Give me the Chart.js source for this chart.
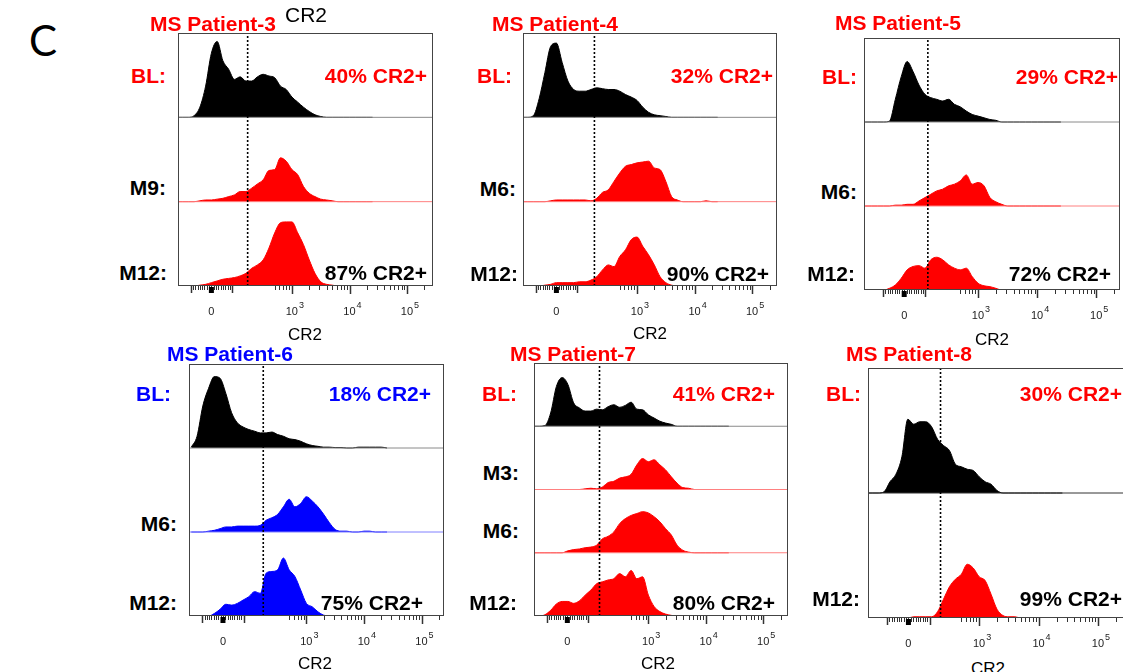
<!DOCTYPE html>
<html>
<head>
<meta charset="utf-8">
<script src="https://cdn.jsdelivr.net/npm/chart.js@4.4.1/dist/chart.umd.min.js"></script>
<style>
body { margin: 0; background: #fff; }
#fig { position: relative; width: 1123px; height: 672px; overflow: hidden; font-family: "Liberation Sans", Arial, sans-serif; }
#fig canvas { position: absolute; }
.t { position: absolute; line-height: 1; white-space: nowrap; }
</style>
</head>
<body>
<div id="fig"></div>
<script>
// CR2 channel bins (display units, 3 = 10^3)
const bins = [1.0,1.1,1.2,1.3,1.4,1.5,1.6,1.7,1.8,1.9,2.0,2.1,2.2,2.3,2.4,2.5,2.6,2.7,2.8,2.9,3.0,3.1,3.2,3.3,3.4,3.5,3.6,3.7,3.8,3.9,4.0,4.1,4.2,4.3,4.4];

// histogram heights (fraction of a track)
const p3BL  = [0,0,0,0.02,0.12,0.37,0.76,0.90,0.67,0.57,0.45,0.48,0.43,0.43,0.48,0.51,0.49,0.47,0.37,0.33,0.24,0.18,0.12,0.07,0.03,0.01,0,0,0,0,0,0,0,0,0];
const p3M9  = [0,0,0,0,0.01,0.02,0.02,0.03,0.04,0.06,0.08,0.12,0.12,0.16,0.21,0.26,0.37,0.38,0.52,0.48,0.38,0.32,0.18,0.10,0.06,0.03,0.02,0.01,0,0,0,0,0,0,0];
const p3M12 = [0,0,0,0,0.01,0.02,0.04,0.06,0.08,0.09,0.10,0.12,0.15,0.21,0.25,0.31,0.45,0.63,0.75,0.76,0.76,0.63,0.49,0.31,0.15,0.05,0.02,0.01,0,0,0,0,0,0,0];

const p4BL  = [0,0,0.02,0.22,0.53,0.84,0.88,0.65,0.43,0.33,0.31,0.31,0.33,0.35,0.34,0.33,0.33,0.31,0.27,0.24,0.20,0.12,0.06,0.03,0.02,0.01,0,0,0,0,0,0,0,0,0];
const p4M6  = [0,0,0,0,0,0.01,0.02,0.02,0.02,0.02,0.02,0.02,0.01,0.04,0.11,0.14,0.24,0.34,0.42,0.44,0.46,0.47,0.48,0.40,0.38,0.24,0.06,0.02,0,0,0,0,0.01,0,0];
const p4M12 = [0,0,0,0,0.01,0.02,0.04,0.04,0.04,0.04,0.05,0.05,0.07,0.11,0.19,0.25,0.23,0.35,0.43,0.55,0.58,0.47,0.37,0.25,0.11,0.04,0.01,0,0,0,0,0,0,0,0];

const p5BL  = [0,0,0,0,0,0.01,0.27,0.54,0.72,0.60,0.44,0.33,0.29,0.27,0.25,0.27,0.21,0.18,0.13,0.09,0.07,0.05,0.03,0.02,0,0,0,0,0,0,0,0,0,0,0];
const p5M6  = [0,0,0,0,0,0,0.01,0.01,0.02,0.02,0.06,0.10,0.14,0.18,0.20,0.24,0.26,0.30,0.37,0.26,0.28,0.24,0.10,0.05,0.02,0,0,0,0,0,0,0,0,0,0];
const p5M12 = [0,0,0,0,0,0.02,0.06,0.14,0.24,0.28,0.29,0.26,0.36,0.39,0.36,0.30,0.26,0.24,0.26,0.16,0.08,0.05,0.04,0.02,0,0,0,0,0,0,0,0,0,0,0];

const p6BL  = [0.01,0.14,0.50,0.71,0.85,0.83,0.65,0.42,0.30,0.25,0.22,0.20,0.18,0.18,0.19,0.16,0.14,0.11,0.10,0.08,0.05,0.03,0.02,0.01,0.01,0.005,0.005,0,0,0.01,0.01,0.01,0.01,0.01,0];
const p6M6  = [0,0,0,0.01,0.02,0.04,0.06,0.06,0.07,0.07,0.07,0.07,0.08,0.14,0.17,0.21,0.30,0.39,0.30,0.34,0.42,0.37,0.30,0.21,0.11,0.03,0.01,0.01,0,0,0.01,0.01,0,0,0];
const p6M12 = [0,0,0,0,0.03,0.08,0.14,0.13,0.15,0.19,0.23,0.29,0.27,0.51,0.53,0.55,0.69,0.55,0.47,0.31,0.15,0.11,0.05,0.01,0,0,0,0,0,0,0,0,0,0,0];

const p7BL  = [0,0,0.01,0.21,0.63,0.77,0.66,0.37,0.29,0.24,0.24,0.27,0.26,0.31,0.34,0.30,0.33,0.38,0.27,0.26,0.18,0.13,0.08,0.05,0.03,0,0,0,0,0,0,0,0,0,0];
const p7M3  = [0,0,0,0,0,0,0,0,0,0.01,0.02,0.01,0.04,0.11,0.13,0.18,0.20,0.24,0.39,0.49,0.44,0.47,0.39,0.31,0.20,0.10,0.03,0.02,0,0,0,0,0,0,0];
const p7M6  = [0,0,0,0,0,0,0.03,0.05,0.06,0.08,0.09,0.12,0.22,0.26,0.33,0.46,0.54,0.59,0.62,0.65,0.63,0.57,0.49,0.38,0.28,0.12,0.04,0.01,0,0,0,0,0,0,0];
const p7M12 = [0,0,0.02,0.09,0.19,0.23,0.23,0.20,0.24,0.33,0.41,0.51,0.54,0.57,0.59,0.67,0.62,0.72,0.59,0.62,0.33,0.15,0.07,0.03,0.01,0,0,0,0,0,0,0,0,0,0];

const p8BL  = [0,0,0,0,0.01,0.09,0.15,0.29,0.59,0.55,0.57,0.57,0.53,0.43,0.38,0.34,0.23,0.21,0.19,0.18,0.13,0.09,0.07,0.02,0,0,0,0,0,0,0,0,0,0,0];
const p8M12 = [0,0,0,0,0,0,0,0,0,0.01,0.01,0.01,0.01,0.05,0.15,0.25,0.31,0.35,0.43,0.40,0.33,0.30,0.19,0.07,0.02,0.01,0.01,0,0,0,0,0,0,0,0];

// axis ticks
const decades = [3, 4, 5];
const minorMult = [2, 3, 4, 5, 6, 7, 8, 9];

const RED = "#ff0000", BLUE = "#0000ff", BLACK = "#000000";
const LRED = "#ff8080", LBLUE = "#8080ff", GREY = "#8a8a8a";

const panels = [
    { box: [178, 33, 433, 286], xMin: 1.02, xMax: 5.45, zero: 1.60, gate: 2.23,
      tracks: [{ vals: p3BL, color: BLACK, line: GREY }, { vals: p3M9, color: RED, line: LRED }, { vals: p3M12, color: RED, line: LRED }] },
    { box: [523, 33, 777, 286], xMin: 1.02, xMax: 5.43, zero: 1.60, gate: 2.26,
      tracks: [{ vals: p4BL, color: BLACK, line: GREY }, { vals: p4M6, color: RED, line: LRED }, { vals: p4M12, color: RED, line: LRED }] },
    { box: [864, 38, 1120, 290], xMin: 1.07, xMax: 5.40, zero: 1.75, gate: 2.15,
      tracks: [{ vals: p5BL, color: BLACK, line: GREY }, { vals: p5M6, color: RED, line: LRED }, { vals: p5M12, color: RED, line: LRED }] },
    { box: [189, 364, 444, 616], xMin: 0.96, xMax: 5.39, zero: 1.55, gate: 2.25,
      tracks: [{ vals: p6BL, color: BLACK, line: GREY }, { vals: p6M6, color: BLUE, line: LBLUE }, { vals: p6M12, color: BLUE, line: LBLUE }] },
    { box: [534, 363, 788, 616], xMin: 1.01, xMax: 5.43, zero: 1.59, gate: 2.15,
      tracks: [{ vals: p7BL, color: BLACK, line: GREY }, { vals: p7M3, color: RED, line: LRED }, { vals: p7M6, color: RED, line: LRED }, { vals: p7M12, color: RED, line: LRED }] },
    { box: [868, 368, 1126, 618], xMin: 1.13, xMax: 5.47, zero: 1.81, gate: 2.35,
      tracks: [{ vals: p8BL, color: BLACK, line: "#333" }, { vals: p8M12, color: RED, line: LRED }] }
];

// text: [text, x, y, align, color, size, bold]
const texts = [
    ["C", 29, 40, "left", BLACK, 42, false, "Lato"],
    ["MS Patient-3", 150, 23, "left", RED, 21, true],
    ["CR2", 285, 14, "left", BLACK, 21, false],
    ["BL:", 166, 75, "right", RED, 21, true],
    ["40% CR2+", 427, 75, "right", RED, 21, true],
    ["M9:", 166, 187, "right", BLACK, 21, true],
    ["M12:", 167, 272, "right", BLACK, 21, true],
    ["87% CR2+", 427, 272, "right", BLACK, 21, true],
    ["CR2", 305, 334, "center", BLACK, 17, false],

    ["MS Patient-4", 492, 23, "left", RED, 21, true],
    ["BL:", 512, 75, "right", RED, 21, true],
    ["32% CR2+", 773, 75, "right", RED, 21, true],
    ["M6:", 516, 188, "right", BLACK, 21, true],
    ["M12:", 518, 273, "right", BLACK, 21, true],
    ["90% CR2+", 769, 273, "right", BLACK, 21, true],
    ["CR2", 650, 333, "center", BLACK, 17, false],

    ["MS Patient-5", 835, 22, "left", RED, 21, true],
    ["BL:", 857, 76, "right", RED, 21, true],
    ["29% CR2+", 1118, 76, "right", RED, 21, true],
    ["M6:", 857, 191, "right", BLACK, 21, true],
    ["M12:", 855, 273, "right", BLACK, 21, true],
    ["72% CR2+", 1111, 273, "right", BLACK, 21, true],
    ["CR2", 992, 339, "center", BLACK, 17, false],

    ["MS Patient-6", 167, 353, "left", BLUE, 21, true],
    ["BL:", 171, 393, "right", BLUE, 21, true],
    ["18% CR2+", 431, 393, "right", BLUE, 21, true],
    ["M6:", 177, 523, "right", BLACK, 21, true],
    ["M12:", 177, 602, "right", BLACK, 21, true],
    ["75% CR2+", 423, 602, "right", BLACK, 21, true],
    ["CR2", 315, 663, "center", BLACK, 17, false],

    ["MS Patient-7", 510, 353, "left", RED, 21, true],
    ["BL:", 517, 393, "right", RED, 21, true],
    ["41% CR2+", 775, 393, "right", RED, 21, true],
    ["M3:", 519, 472, "right", BLACK, 21, true],
    ["M6:", 519, 530, "right", BLACK, 21, true],
    ["M12:", 517, 602, "right", BLACK, 21, true],
    ["80% CR2+", 775, 602, "right", BLACK, 21, true],
    ["CR2", 658, 663, "center", BLACK, 17, false],

    ["MS Patient-8", 846, 353, "left", RED, 21, true],
    ["BL:", 861, 393, "right", RED, 21, true],
    ["30% CR2+", 1122, 393, "right", RED, 21, true],
    ["M12:", 860, 598, "right", BLACK, 21, true],
    ["99% CR2+", 1122, 598, "right", BLACK, 21, true],
    ["CR2", 988, 668, "center", BLACK, 17, false]
];

const fig = document.getElementById("fig");
const PAD = { left: 4, right: 4, top: 4, bottom: 36 };

// box, dotted gate and the flow-style log axis under each panel
const flowAxis = {
    id: "flowAxis",
    afterDraw(chart) {
        const { ctx, chartArea: a, scales: { x } } = chart;
        const zero = chart.options.plugins.flowAxis.zero;
        ctx.save();
        ctx.strokeStyle = "#444";
        ctx.lineWidth = 1;
        ctx.strokeRect(a.left + 0.5, a.top + 0.5, a.width - 1, a.height - 1);

        const ticks = [];
        ticks.push({ u: zero - 0.36, len: 7, w: 1.5 });
        ticks.push({ u: zero + 0.36, len: 7, w: 1.5 });
        for (let k = -8; k <= 8; k++) ticks.push({ u: zero + k * 0.04, len: 4, w: 1 });
        [5, 6, 7, 8, 9].forEach(m => ticks.push({ u: 2 + Math.log10(m), len: 4, w: 1 }));
        decades.forEach(d => {
            ticks.push({ u: d, len: 8, w: 1.5 });
            minorMult.forEach(m => ticks.push({ u: d + Math.log10(m), len: 4, w: 1 }));
        });
        ticks.forEach(t => {
            const px = Math.round(x.getPixelForValue(t.u)) + 0.5;
            if (px < a.left || px > a.right) return;
            ctx.lineWidth = t.w;
            ctx.strokeStyle = "#333";
            ctx.beginPath();
            ctx.moveTo(px, a.bottom);
            ctx.lineTo(px, a.bottom + t.len);
            ctx.stroke();
        });
        const z = x.getPixelForValue(zero);
        ctx.fillStyle = "#000";
        ctx.fillRect(z - 2.5, a.bottom + 1, 5, 6);

        ctx.fillStyle = "#222";
        ctx.textBaseline = "middle";
        ctx.font = "11px 'Liberation Sans', Arial, sans-serif";
        ctx.textAlign = "center";
        const ly = a.bottom + 26;
        ctx.fillText("0", z, ly);
        decades.forEach(d => {
            const px = x.getPixelForValue(d);
            ctx.font = "11px 'Liberation Sans', Arial, sans-serif";
            ctx.textAlign = "right";
            ctx.fillText("10", px + 6, ly);
            ctx.font = "9px 'Liberation Sans', Arial, sans-serif";
            ctx.textAlign = "left";
            ctx.fillText(String(d), px + 7, ly - 6);
        });
        ctx.restore();
    }
};

panels.forEach(p => {
    const [l, t, r, b] = p.box;
    const n = p.tracks.length;
    const cv = document.createElement("canvas");
    cv.width = r - l + PAD.left + PAD.right;
    cv.height = b - t + PAD.top + PAD.bottom;
    cv.style.left = (l - PAD.left) + "px";
    cv.style.top = (t - PAD.top) + "px";
    fig.appendChild(cv);

    const datasets = [];
    datasets.push({
        data: [{ x: p.gate, y: 0 }, { x: p.gate, y: n }],
        borderColor: "#000", borderWidth: 1.6, borderDash: [2, 2],
        pointRadius: 0, fill: false
    });
    p.tracks.forEach((tr, i) => {
        const base = n - 1 - i;
        if (base > 0) {
            datasets.push({
                data: [{ x: p.xMin, y: base }, { x: p.xMax, y: base }],
                borderColor: tr.line, borderWidth: 1, pointRadius: 0, fill: false
            });
        }
        datasets.push({
            data: bins.map((u, k) => ({ x: u, y: base + tr.vals[k] })),
            borderColor: tr.color, backgroundColor: tr.color, borderWidth: 1,
            pointRadius: 0, cubicInterpolationMode: "monotone",
            fill: { value: base }
        });
    });

    new Chart(cv, {
        type: "line",
        data: { datasets },
        options: {
            responsive: false,
            animation: false,
            devicePixelRatio: 1,
            layout: { padding: PAD },
            plugins: { legend: { display: false }, tooltip: { enabled: false }, flowAxis: { zero: p.zero } },
            scales: {
                x: { type: "linear", min: p.xMin, max: p.xMax, display: false },
                y: { min: 0, max: n, display: false }
            }
        },
        plugins: [flowAxis]
    });
});

texts.forEach(([s, x, y, align, color, size, bold, family]) => {
    const d = document.createElement("div");
    d.className = "t";
    d.textContent = s;
    d.style.left = x + "px";
    d.style.top = y + "px";
    d.style.color = color;
    d.style.fontSize = size + "px";
    d.style.fontWeight = bold ? "bold" : "normal";
    if (family) d.style.fontFamily = family;
    const tx = align === "right" ? "-100%" : align === "center" ? "-50%" : "0";
    d.style.transform = "translate(" + tx + ", -50%)";
    fig.appendChild(d);
});
</script>
</body>
</html>
